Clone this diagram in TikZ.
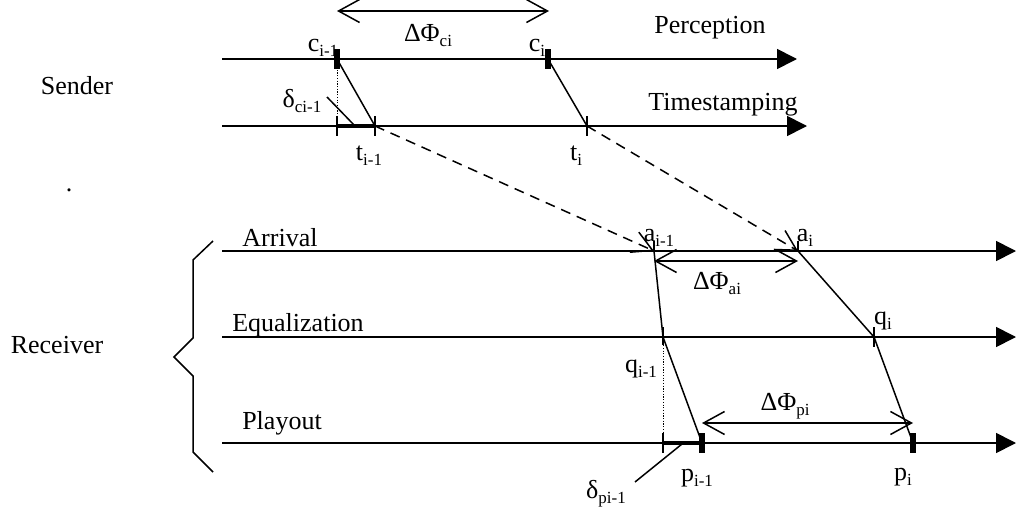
\documentclass[tikz,border=0pt]{standalone}
\usepackage{fontspec}
\setmainfont{Liberation Serif}
\usetikzlibrary{arrows.meta}
\newcommand{\lsub}[1]{\raisebox{-5pt}{\fontsize{17}{17}\selectfont #1}}
\begin{document}
\begin{tikzpicture}[x=1pt,y=-1pt,
  axis/.style={line width=1.7pt, -{Triangle[length=20pt,width=20pt]}},
  link/.style={line width=1.5pt},
  dashlink/.style={line width=1.5pt, dash pattern=on 10pt off 7pt, -{Straight Barb[length=20pt,width=22pt]}},
  delta/.style={line width=1.5pt, {Straight Barb[length=21pt,width=23pt]}-{Straight Barb[length=21pt,width=23pt]}},
  tickmark/.style={line width=1.5pt},
  thickseg/.style={line width=4pt},
  dotline/.style={line width=1pt, dash pattern=on 1.2pt off 1.5pt},
  lbl/.style={font=\fontsize{26}{28}\selectfont, inner sep=0pt},
]
\path[use as bounding box] (0,0) rectangle (1017,511);

% axes
\coordinate (P0) at (222,59);  \coordinate (P1) at (797,59);
\coordinate (T0) at (222,126); \coordinate (T1) at (807,126);
\coordinate (A0) at (222,251); \coordinate (A1) at (1016,251);
\coordinate (E0) at (222,337); \coordinate (E1) at (1016,337);
\coordinate (L0) at (222,443); \coordinate (L1) at (1016,443);
\draw[axis] (P0) -- (P1);
\draw[axis] (T0) -- (T1);
\draw[axis] (A0) -- (A1);
\draw[axis] (E0) -- (E1);
\draw[axis] (L0) -- (L1);

% events
\coordinate (c1) at (337,59);  \coordinate (c2) at (548,59);
\coordinate (t1) at (375,126); \coordinate (t2) at (587,126);
\coordinate (d1) at (337,126);
\coordinate (a1) at (654,251); \coordinate (a2) at (798,251);
\coordinate (q1) at (663,337); \coordinate (q2) at (874,337);
\coordinate (p1) at (702,443); \coordinate (p2) at (913,443);
\coordinate (d2) at (663,443);

% sender
\draw[dotline] (c1) -- (d1);
\draw[thickseg] (d1) -- (t1);
\draw[link] (c1) -- (t1);
\draw[link] (c2) -- (t2);
\foreach \pt in {d1,t1,t2} \draw[tickmark] (\pt) ++(0,-10) -- ++(0,20);
\fill (c1) ++(-3,-10) rectangle ++(6,20);
\fill (c2) ++(-3,-10) rectangle ++(6,20);
\coordinate (dcs) at (327,97); \coordinate (dce) at (355,126);
\draw[link] (dcs) -- (dce);

% transmission
\draw[dashlink] (t1) -- (a1);
\draw[dashlink] (t2) -- (a2);

% receiver
\draw[link] (a1) -- (q1) -- (p1);
\draw[link] (a2) -- (q2) -- (p2);
\draw[dotline] (q1) -- (d2);
\draw[thickseg] (d2) -- (p1);
\foreach \pt in {a1,a2,q1,q2,d2} \draw[tickmark] (\pt) ++(0,-10) -- ++(0,10);
\draw[tickmark] (d2) -- ++(0,10);
\draw[tickmark] (q1) -- ++(0,8);
\draw[tickmark] (q2) -- ++(0,10);
\fill (p1) ++(-3,-10) rectangle ++(6,20);
\fill (p2) ++(-3,-10) rectangle ++(6,20);
\coordinate (dps) at (635,482); \coordinate (dpe) at (682,444);
\draw[link] (dps) -- (dpe);

% intervals
\coordinate (fc1) at (337,11); \coordinate (fc2) at (549,11);
\draw[delta] (fc1) -- (fc2);
\coordinate (fa1) at (654,261); \coordinate (fa2) at (798,261);
\draw[delta] (fa1) -- (fa2);
\coordinate (fp1) at (702,423); \coordinate (fp2) at (913,423);
\draw[delta] (fp1) -- (fp2);

% brace
\coordinate (b1) at (213,241); \coordinate (b2) at (193,260);
\coordinate (b3) at (193,338); \coordinate (b4) at (174,357);
\coordinate (b5) at (193,376); \coordinate (b6) at (193,452);
\coordinate (b7) at (213,472);
\draw[link] (b1) -- (b2) -- (b3) -- (b4) -- (b5) -- (b6) -- (b7);

% labels
\node[lbl] (perc) at (710,28) {Perception};
\node[lbl] (tsl) at (723,105) {Timestamping};
\node[lbl] (send) at (77,86) {Sender};
\node[lbl] (dot) at (69,190) {.};
\node[lbl] (recv) at (57,345) {Receiver};
\node[lbl] (arr) at (280,238) {Arrival};
\node[lbl] (equ) at (298,325) {Equalization};
\node[lbl] (play) at (282,423) {Playout};
\node[lbl] (lc1) at (323,48) {c\lsub{i-1}};
\node[lbl] (lc2) at (537,48) {c\lsub{i}};
\node[lbl] (ldc) at (302,101) {δ\lsub{ci-1}};
\node[lbl] (lt1) at (369,156) {t\lsub{i-1}};
\node[lbl] (lt2) at (576,156) {t\lsub{i}};
\node[lbl] (lfc) at (428,36) {ΔΦ\lsub{ci}};
\node[lbl] (la1) at (659,238) {a\lsub{i-1}};
\node[lbl] (la2) at (805,238) {a\lsub{i}};
\node[lbl] (lfa) at (717,283) {ΔΦ\lsub{ai}};
\node[lbl] (lq1) at (641,369) {q\lsub{i-1}};
\node[lbl] (lq2) at (883,321) {q\lsub{i}};
\node[lbl] (lfp) at (785,406) {ΔΦ\lsub{pi}};
\node[lbl] (lp1) at (697,478) {p\lsub{i-1}};
\node[lbl] (lp2) at (903,477) {p\lsub{i}};
\node[lbl] (ldp) at (606,494) {δ\lsub{pi-1}};
\end{tikzpicture}
\end{document}
